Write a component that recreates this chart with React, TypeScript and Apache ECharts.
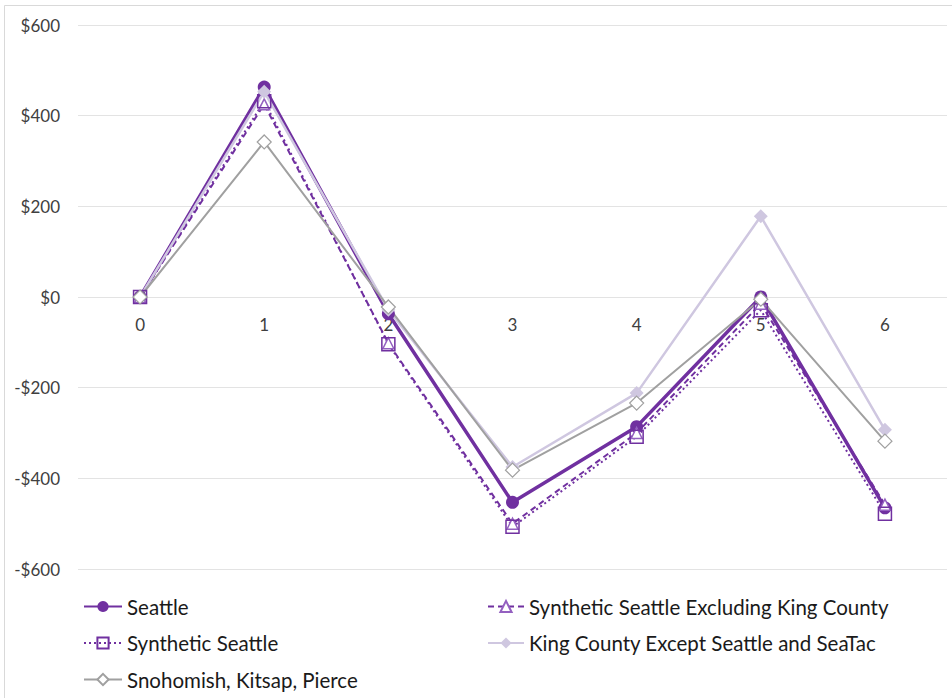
import React, { useEffect, useRef } from "react";
import * as echarts from "echarts";

const categories = ["0", "1", "2", "3", "4", "5", "6"];
const seattle = [0, 463, -37, -453, -286, 0, -465];
const synthExclKC = [0, 425, -102, -500, -300, -15, -458];
const synthSeattle = [0, 432, -104, -507, -308, -29, -478];
const kingCounty = [0, 453, -28, -375, -212, 178, -293];
const snohomish = [0, 342, -22, -382, -234, -5, -318];
const yTicks = { min: -600, max: 600, interval: 200 };

const FONT = "Lato";
const PURPLE = "#7030A0";
const LAVENDER = "#CFC7E0";
const GRAY = "#A0A0A0";

export default function App() {
  const ref = useRef<HTMLDivElement>(null);
  useEffect(() => {
    if (!ref.current) return;
    const chart = echarts.init(ref.current, null, { renderer: "svg" });
    const legendText = { fontSize: 20.5, lineHeight: 20, color: "#1a1a1a", fontFamily: FONT };
    chart.setOption({
      animation: false,
      backgroundColor: "#ffffff",
      textStyle: { fontFamily: FONT },
      graphic: [
        {
          type: "rect",
          shape: { x: 4.5, y: 5.5, width: 1000, height: 800 },
          style: { fill: "none", stroke: "#D9D9D9", lineWidth: 1 },
          silent: true,
          z: -10,
        },
      ],
      grid: { left: 78, right: 5, top: 25, bottom: 129, containLabel: false },
      xAxis: {
        type: "category",
        data: categories,
        boundaryGap: true,
        position: "bottom",
        offset: -272,
        axisLine: { show: false, onZero: false },
        axisTick: { show: false },
        axisLabel: { color: "#404040", fontSize: 17, margin: 19, fontFamily: FONT },
        splitLine: { show: false },
      },
      yAxis: {
        type: "value",
        min: yTicks.min,
        max: yTicks.max,
        interval: yTicks.interval,
        axisLine: { show: false },
        axisTick: { show: false },
        axisLabel: {
          color: "#404040",
          fontSize: 17,
          margin: 18,
          fontFamily: FONT,
          formatter: (v: number) => (v < 0 ? "-$" + Math.abs(v) : "$" + v),
        },
        splitLine: { lineStyle: { color: "#E3E3E3", width: 1 } },
      },
      legend: [
        {
          left: 78,
          top: 591,
          orient: "vertical",
          itemGap: 15.5,
          itemWidth: 38,
          itemHeight: 14,
          textStyle: legendText,
          data: ["Seattle", "Synthetic Seattle", "Snohomish, Kitsap, Pierce"],
        },
        {
          left: 482,
          top: 591,
          orient: "vertical",
          itemGap: 15.5,
          itemWidth: 36,
          itemHeight: 14,
          textStyle: legendText,
          data: ["Synthetic Seattle Excluding King County", "King County Except Seattle and SeaTac"],
        },
      ],
      series: [
        {
          name: "Seattle",
          type: "line",
          data: seattle,
          symbol: "circle",
          symbolSize: 13,
          lineStyle: { color: PURPLE, width: 3.5 },
          itemStyle: { color: PURPLE },
        },
        {
          name: "Synthetic Seattle Excluding King County",
          type: "line",
          data: synthExclKC,
          symbol: "triangle",
          symbolSize: 11,
          lineStyle: { color: PURPLE, width: 2, type: [6, 4] },
          itemStyle: { color: "#ffffff", borderColor: "#9460C0", borderWidth: 1.5 },
        },
        {
          name: "Synthetic Seattle",
          type: "line",
          data: synthSeattle,
          symbol: "rect",
          symbolSize: 13,
          lineStyle: { color: PURPLE, width: 2, type: [2, 3] },
          itemStyle: { color: "none", borderColor: PURPLE, borderWidth: 1.5 },
        },
        {
          name: "King County Except Seattle and SeaTac",
          type: "line",
          data: kingCounty,
          symbol: "diamond",
          symbolSize: 14,
          lineStyle: { color: LAVENDER, width: 2.5 },
          itemStyle: { color: LAVENDER },
        },
        {
          name: "Snohomish, Kitsap, Pierce",
          type: "line",
          data: snohomish,
          symbol: "diamond",
          symbolSize: 14,
          lineStyle: { color: GRAY, width: 2 },
          itemStyle: { color: "#ffffff", borderColor: GRAY, borderWidth: 1.2 },
        },
      ],
    });
    return () => chart.dispose();
  }, []);
  return (
    <div
      ref={ref}
      style={{ position: "fixed", left: 0, top: 0, width: 952, height: 698, background: "#fff" }}
    />
  );
}
